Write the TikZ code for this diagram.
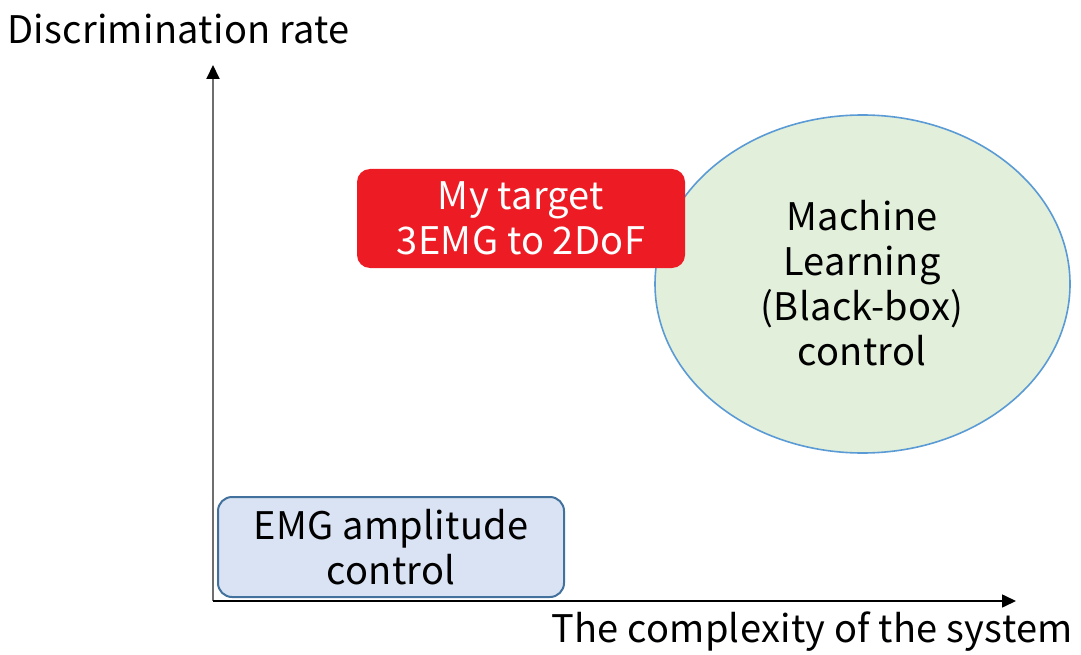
\documentclass[tikz,border=0pt]{standalone}
\usepackage{fontspec}
\setmainfont[LetterSpace=0.8]{Noto Sans CJK JP}
\usetikzlibrary{arrows.meta,shapes.geometric}
\definecolor{targetred}{HTML}{ED1C24}
\definecolor{mlfill}{HTML}{E2EFDA}
\definecolor{mlline}{HTML}{5B9BD5}
\definecolor{ampfill}{HTML}{DAE3F3}
\definecolor{ampline}{HTML}{41719C}
\definecolor{axisgray}{HTML}{6E6E6E}
\tikzset{
  bigtext/.style={font=\fontsize{38}{45}\selectfont, align=center, inner sep=0pt},
  axistip/.style={-{Triangle[width=13pt,length=14pt,color=black]}},
}
\begin{document}
\begin{tikzpicture}[x=1pt,y=-1pt]
\useasboundingbox (0,0) rectangle (1081,655);
% axes
\coordinate (origin) at (213,601);
\coordinate (ytop) at (213,65);
\coordinate (xend) at (1016,601);
\draw[axisgray, line width=2pt, axistip] (origin) -- (ytop);
\draw[black, line width=1.6pt, axistip] (origin) -- (xend);
\node[bigtext, anchor=west] (ylabel) at (7,29) {Discrimination rate};
\node[bigtext, anchor=east] (xlabel) at (1073,632) {The complexity of the system};
% machine learning region
\node[draw=mlline, fill=mlfill, line width=1.6pt, ellipse, minimum width=415pt, minimum height=338pt, inner sep=0pt] (ml) at (862.5,284) {};
\node[bigtext, text=black] (mltext) at (862,283) {Machine\\Learning\\(Black-box)\\control};
% target box
\draw[fill=targetred, draw=none, rounded corners=13pt] (357,169) rectangle (685,268);
\node[bigtext, text=white] (target) at (521,218) {My target\\3EMG to 2DoF};
% amplitude control box
\draw[fill=ampfill, draw=ampline, line width=2pt, rounded corners=14pt] (218,497) rectangle (564,597);
\node[bigtext, text=black] (amp) at (391,547) {EMG amplitude\\control};
\end{tikzpicture}
\end{document}
